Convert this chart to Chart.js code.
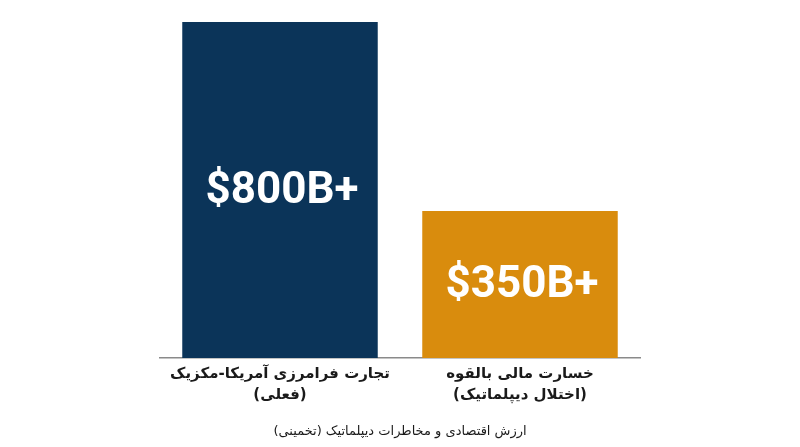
<!DOCTYPE html>
<html>
<head>
<meta charset="utf-8">
<script src="https://cdn.jsdelivr.net/npm/chart.js@4"></script>
<style>
  html, body { margin:0; padding:0; background:#ffffff; }
  #wrap { width:800px; height:447px; position:relative; }
</style>
</head>
<body>
<div id="wrap"><canvas id="c"></canvas></div>
<script>
const categories = [
  ["تجارت فرامرزی آمریکا-مکزیک", "(فعلی)"],
  ["خسارت مالی بالقوه", "(اختلال دیپلماتیک)"]
];
const values = [800, 350];
const valueLabels = ["$800B+", "$350B+"];
const barColors = ["#0b3459", "#d98c0d"];
const axisTitle = "ارزش اقتصادی و مخاطرات دیپلماتیک (تخمینی)";

const valueLabelPlugin = {
  id: 'valueLabels',
  afterDatasetsDraw(chart) {
    const ctx = chart.ctx;
    const meta = chart.getDatasetMeta(0);
    ctx.save();
    ctx.fillStyle = '#ffffff';
    ctx.font = 'bold 44px Roboto, sans-serif';
    ctx.textAlign = 'center';
    ctx.textBaseline = 'middle';
    meta.data.forEach((bar, i) => {
      const cy = (bar.y + bar.base) / 2 + 2;
      ctx.fillText(valueLabels[i], bar.x + 2, cy);
    });
    ctx.restore();
  }
};

new Chart(document.getElementById('c'), {
  type: 'bar',
  data: {
    labels: categories,
    datasets: [{
      data: values,
      backgroundColor: barColors,
      borderWidth: 0,
      categoryPercentage: 0.9,
      barPercentage: 0.905
    }]
  },
  options: {
    responsive: true,
    maintainAspectRatio: false,
    animation: false,
    layout: { padding: { left: 160, right: 160, top: 22, bottom: 8 } },
    plugins: {
      legend: { display: false },
      tooltip: { enabled: false }
    },
    scales: {
      y: {
        display: false,
        min: 0,
        max: 800
      },
      x: {
        grid: { display: false, drawTicks: false },
        border: { display: true, color: '#8a8a8a', width: 1.5 },
        ticks: {
          color: '#1a1a1a',
          font: { family: "'DejaVu Sans', sans-serif", size: 15, weight: 'bold', lineHeight: 1.45 },
          padding: 5
        },
        title: {
          display: true,
          text: axisTitle,
          color: '#1a1a1a',
          font: { family: "'DejaVu Sans', sans-serif", size: 13, weight: 'normal' },
          padding: { top: 12, bottom: 0 }
        }
      }
    }
  },
  plugins: [valueLabelPlugin]
});
</script>
</body>
</html>
